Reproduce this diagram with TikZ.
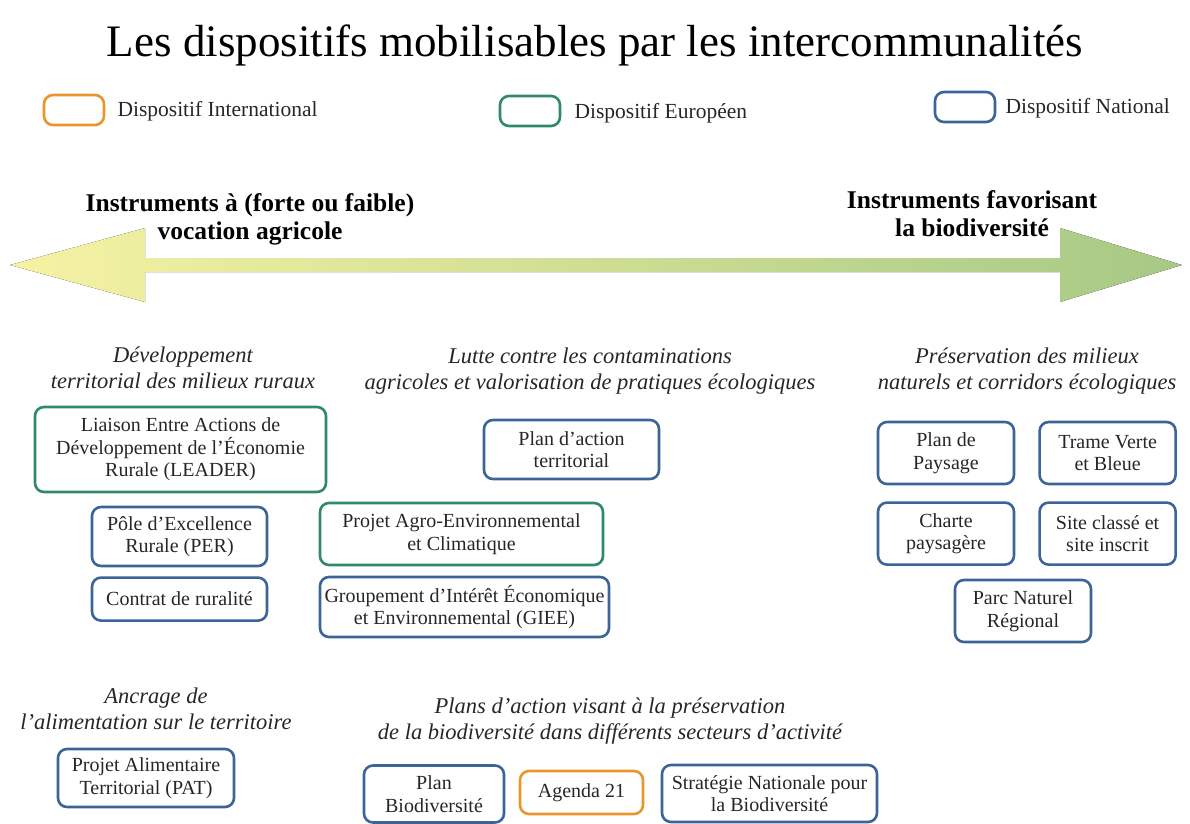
\documentclass[tikz,border=0pt]{standalone}
\usepackage{fontspec}
\setmainfont{Liberation Serif}
\usepackage{xcolor}
\definecolor{natblue}{HTML}{3B6497}
\definecolor{eurgreen}{HTML}{2F8A6C}
\definecolor{intorange}{HTML}{E8962C}
\definecolor{agriyellow}{HTML}{F6F2A4}
\definecolor{biogreen}{HTML}{A6C985}
\usetikzlibrary{positioning}
\newcommand{\dispnode}[3]{
\node (#1) [#2]{#3};}
\tikzstyle{dispositif}=[rectangle, rounded corners=9pt, line width=2.6pt, text centered, align=center,
        font=\fontsize{20}{22.5}\selectfont, inner sep=1pt, text=black!85]
\tikzstyle{national}=[dispositif, draw=natblue]
\tikzstyle{europeen}=[dispositif, draw=eurgreen]
\tikzstyle{international}=[dispositif, draw=intorange]
\tikzstyle{theme}=[align=center, font=\itshape\fontsize{22.5}{26}\selectfont, text=black!85]
\tikzstyle{pole}=[align=center, font=\bfseries\fontsize{25.5}{28}\selectfont]
\tikzstyle{legende}=[anchor=west, font=\fontsize{21.5}{24}\selectfont, text=black!85]

\begin{document}
\begin{tikzpicture}[x=1pt, y=-1pt]

\useasboundingbox (0,0) rectangle (1190,823);

\node (titre) at (595,45) {\fontsize{45}{50}\selectfont Les dispositifs mobilisables par les intercommunalités};

% legende
\node (legInt) [international, minimum width=60pt, minimum height=30pt] at (74,110) {};
\node [legende] at (114,111) {Dispositif International};
\node (legEur) [europeen, minimum width=60pt, minimum height=30pt] at (530,111) {};
\node [legende] at (571,113) {Dispositif Européen};
\node (legNat) [national, minimum width=60pt, minimum height=30pt] at (965,107) {};
\node [legende] at (1002,108) {Dispositif National};

% axe agricole / biodiversite
\fill[left color=agriyellow, right color=biogreen]
  (10,265) -- (145,228) -- (145,258) -- (1060,258) -- (1060,228) -- (1182,265)
  -- (1060,302) -- (1060,272) -- (145,272) -- (145,302) -- cycle;
\node (agricole) [pole] at (250,219) {Instruments à (forte ou faible)\\vocation agricole};
\node (biodiv) [pole] at (972,214) {Instruments favorisant\\la biodiversité};

% themes
\node (rural) [theme] at (183,368) {Développement\\territorial des milieux ruraux};
\node (lutte) [theme] at (590,371) {Lutte contre les contaminations\\agricoles et valorisation de pratiques écologiques};
\node (milieux) [theme] at (1027,371) {Préservation des milieux\\naturels et corridors écologiques};
\node (ancrage) [theme] at (156,709) {Ancrage de\\l’alimentation sur le territoire};
\node (plans) [theme] at (610,721) {Plans d’action visant à la préservation\\de la biodiversité dans différents secteurs d’activité};

% developpement rural
\dispnode{LEADER}{europeen, minimum width=291pt, minimum height=85pt, at={(180.5,449.5)}}{Liaison Entre Actions de\\Développement de l’Économie\\Rurale (LEADER)}
\dispnode{PER}{national, minimum width=175pt, minimum height=59pt, at={(179.5,536.5)}}{Pôle d’Excellence\\Rurale (PER)}
\dispnode{Contrat}{national, minimum width=175pt, minimum height=43pt, below=9pt of PER}{Contrat de ruralité}

% contaminations agricoles
\dispnode{PlanAction}{national, minimum width=175pt, minimum height=59pt, at={(571.5,449.5)}}{Plan d’action\\territorial}
\dispnode{PAEC}{europeen, minimum width=283pt, minimum height=62pt, at={(461.5,534)}}{Projet Agro-Environnemental\\et Climatique}
\dispnode{GIEE}{national, minimum width=289pt, minimum height=60pt, at={(464.5,607)}}{Groupement d’Intérêt Économique\\et Environnemental (GIEE)}

% milieux naturels
\dispnode{Paysage}{national, minimum width=136pt, minimum height=62pt, at={(946,453)}}{Plan de\\Paysage}
\dispnode{TVB}{national, minimum width=136pt, minimum height=62pt, right=23pt of Paysage}{Trame Verte\\et Bleue}
\dispnode{Charte}{national, minimum width=136pt, minimum height=62pt, below=16pt of Paysage}{Charte\\paysagère}
\dispnode{Site}{national, minimum width=136pt, minimum height=62pt, below=16pt of TVB}{Site classé et\\site inscrit}
\dispnode{PNR}{national, minimum width=136pt, minimum height=62pt, at={(1023,611)}}{Parc Naturel\\Régional}

% alimentation
\dispnode{PAT}{national, minimum width=176pt, minimum height=58pt, at={(146,778)}}{Projet Alimentaire\\Territorial (PAT)}

% plans d'action
\dispnode{PlanBio}{national, minimum width=140pt, minimum height=57pt, at={(434,794)}}{Plan\\Biodiversité}
\dispnode{Agenda}{international, minimum width=123pt, minimum height=43pt, at={(581.5,792.5)}}{Agenda 21}
\dispnode{SNB}{national, minimum width=215pt, minimum height=57pt, at={(769.5,793.5)}}{Stratégie Nationale pour\\la Biodiversité}

\end{tikzpicture}
\end{document}
